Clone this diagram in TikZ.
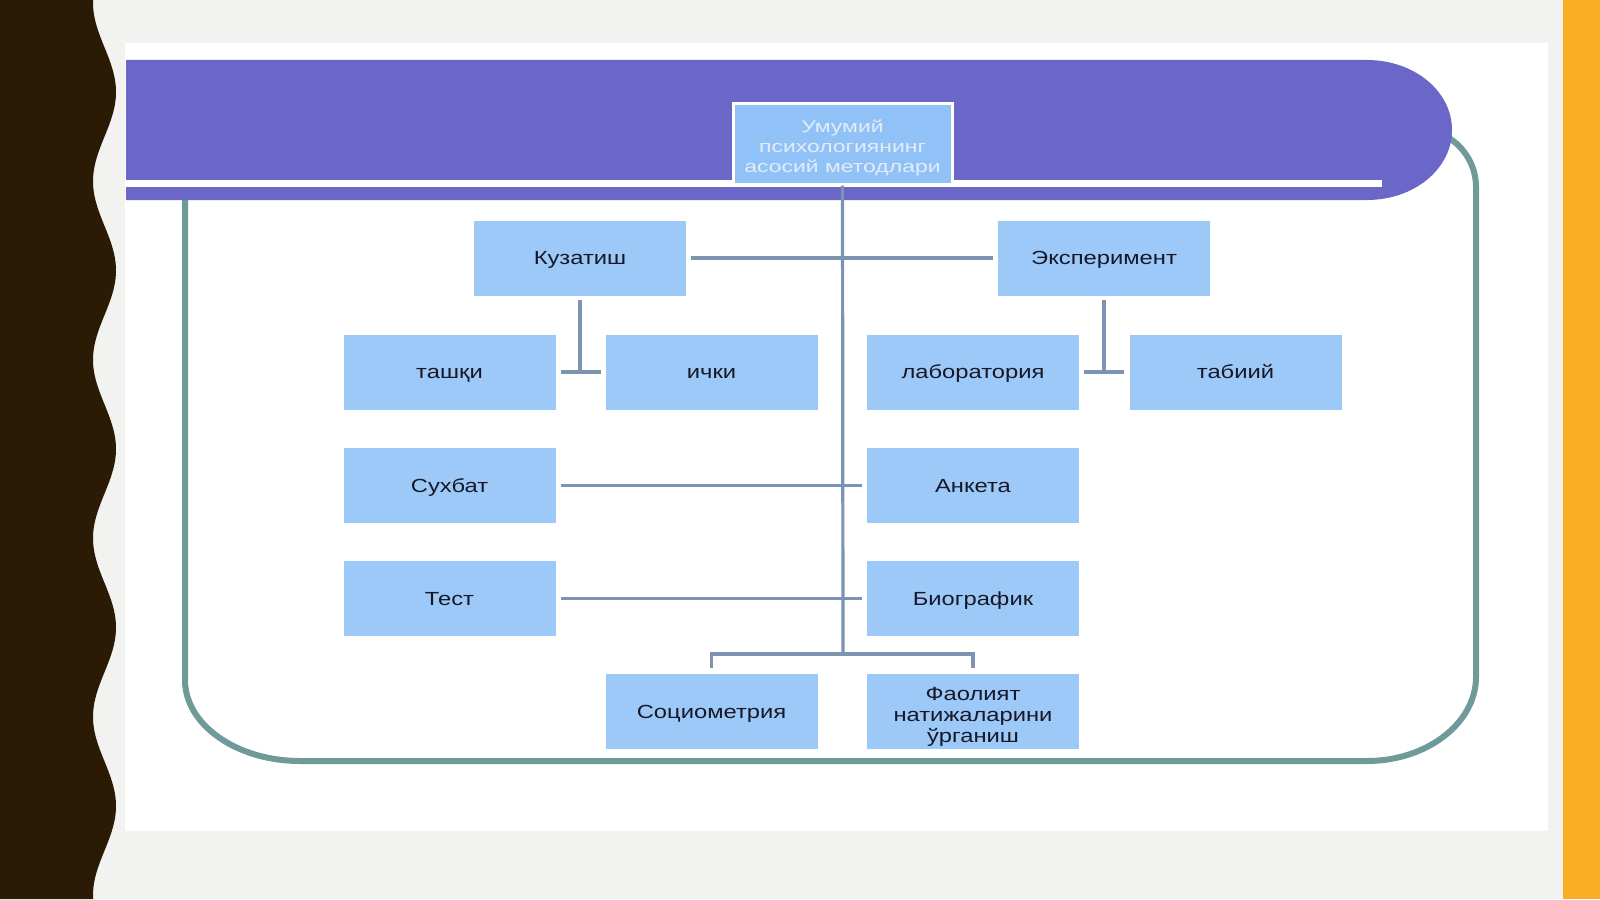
\documentclass[tikz,border=0pt]{standalone}
\usepackage{fontspec}
\setmainfont{Liberation Sans}[FakeStretch=1.25]
\newfontfamily\topfont{Liberation Sans}[FakeStretch=1.35]
\definecolor{bggrey}{RGB}{242,242,240}
\definecolor{orangebar}{RGB}{248,175,36}
\definecolor{wavedark}{RGB}{43,26,4}
\definecolor{banner}{RGB}{106,103,201}
\definecolor{framecol}{RGB}{111,154,154}
\definecolor{conn}{RGB}{125,147,178}
\definecolor{boxblue}{RGB}{157,201,248}
\definecolor{topblue}{RGB}{145,194,247}
\definecolor{textdark}{RGB}{22,24,40}
\definecolor{toptext}{RGB}{228,236,248}
\tikzset{
  box/.style={fill=boxblue, minimum width=212pt, minimum height=75pt, inner sep=0pt,
    align=center, text=textdark, font=\fontsize{19}{21}\selectfont},
  onebox/.style={box, text height=13.5pt, text depth=0pt},
  topbox/.style={fill=topblue, draw=white, line width=3pt, minimum width=219pt,
    minimum height=81pt, inner sep=0pt, align=center, text=toptext,
    font=\topfont\fontsize{17}{20}\selectfont},
  link/.style={draw=conn, line width=3.2pt},
  framepath/.style={draw=framecol, line width=6pt}
}
\begin{document}
\begin{tikzpicture}[x=1pt,y=-1pt]
\useasboundingbox (0,0) rectangle (1600,899);
% backgrounds
\fill[bggrey] (0,0) rectangle (1600,899);
\fill[white] (125,43) rectangle (1548,831);
\fill[orangebar] (1563,0) rectangle (1600,899);
\fill[wavedark] (0,0) -- plot[domain=0:899, samples=240, variable=\t] ({104.5+11.5*cos(2.01681*(\t-92))},\t) -- (0,899) -- cycle;
% frame
\draw[framepath] (185,129) -- (1418,129) .. controls (1450,129) and (1476,155) .. (1476,187)
  -- (1476,677) .. controls (1476,723) and (1427,761) .. (1367,761)
  -- (300,761) .. controls (237,761) and (185,725) .. (185,680) -- cycle;
% banner
\fill[banner] (126,60) -- (1367,60) .. controls (1414,60) and (1452,91) .. (1452,130)
  .. controls (1452,169) and (1414,200) .. (1367,200) -- (126,200) -- cycle;
\fill[white] (126,180) rectangle (1382,187);
% nodes
\node[topbox] (top) at (842.5,143.5) {\rule{0pt}{22pt}Умумий\\психологиянинг\\асосий методлари};
\node[onebox] (kuz) at (580,258) {Кузатиш};
\node[onebox] (eksp) at (1104,258) {Эксперимент};
\node[onebox] (tash) at (449.5,372) {ташқи};
\node[onebox] (ichki) at (711.5,372) {ички};
\node[onebox] (lab) at (973,372) {лаборатория};
\node[onebox] (tab) at (1235.5,372) {табиий};
\node[onebox] (suh) at (449.5,485.5) {Сухбат};
\node[onebox] (anketa) at (973,485.5) {Анкета};
\node[onebox] (test) at (449.5,598.5) {Тест};
\node[onebox] (bio) at (973,598.5) {Биографик};
\node[onebox] (socio) at (711.5,711.5) {Социометрия};
\node[box] (faol) at (973,711.5) {\rule{0pt}{23pt}Фаолият\\натижаларини\\ўрганиш};
\coordinate (fork) at (843,654);
% connectors
\draw[link] (top.south) -- (fork);
\draw[link] ([yshift=6pt]socio.north) |- (fork) -| ([yshift=6pt]faol.north);
\draw[link] ([xshift=5pt]kuz.east) -- ([xshift=-5pt]eksp.west);
\draw[link] ([yshift=-4pt]kuz.south) -- (kuz.south |- tash.east);
\draw[link] ([xshift=5pt]tash.east) -- ([xshift=-4pt]ichki.west);
\draw[link] ([yshift=-4pt]eksp.south) -- (eksp.south |- lab.east);
\draw[link] ([xshift=5pt]lab.east) -- ([xshift=-5pt]tab.west);
\draw[link] ([xshift=5pt]suh.east) -- ([xshift=-5pt]anketa.west);
\draw[link] ([xshift=5pt]test.east) -- ([xshift=-5pt]bio.west);
\end{tikzpicture}
\end{document}
